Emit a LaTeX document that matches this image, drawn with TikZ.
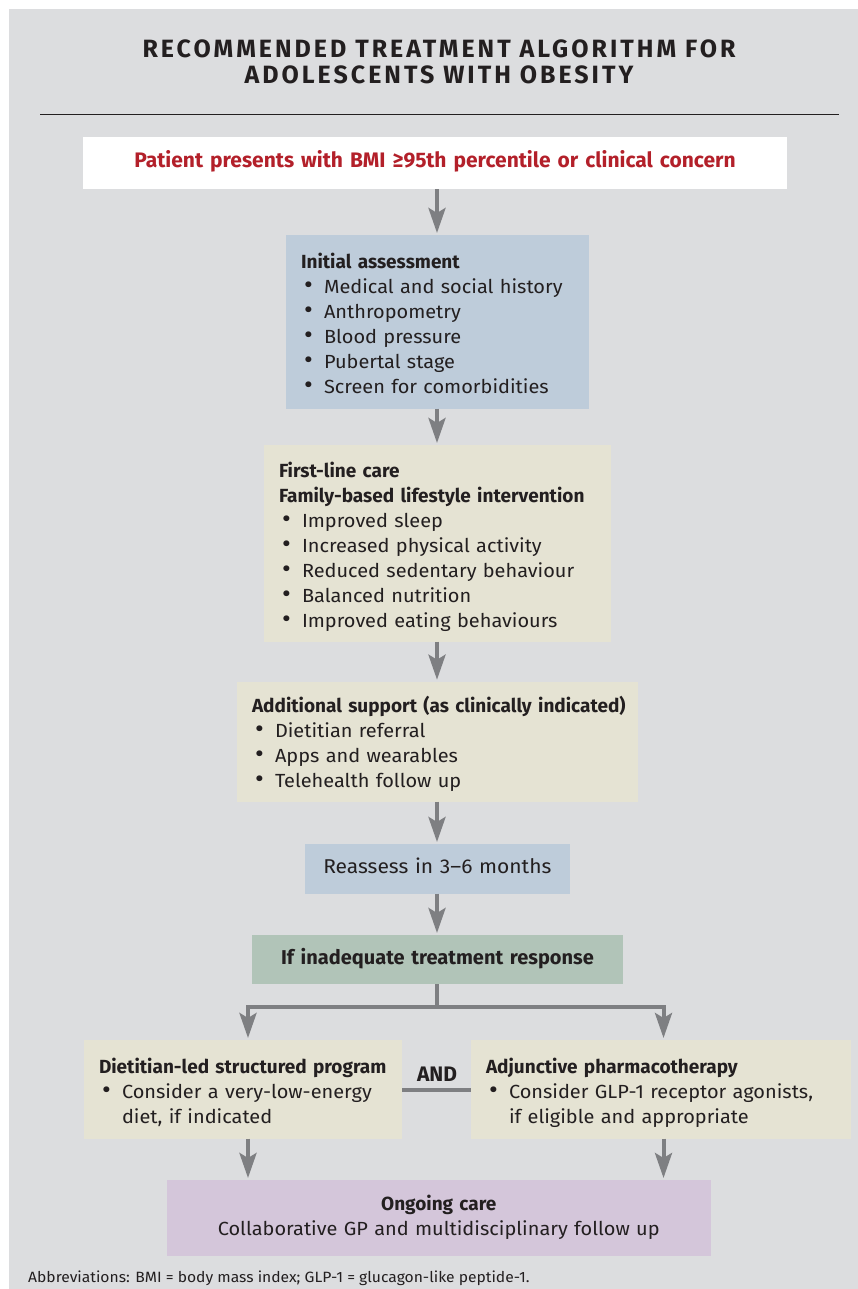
\documentclass[tikz,border=0pt]{standalone}
\usepackage{fontspec}
\setmainfont{Fira Sans}[FakeStretch=1.05]
\newfontfamily\bfont{Fira Sans}
\newfontfamily\titlefont{Fira Sans}[LetterSpace=12]
\usetikzlibrary{arrows.meta}
\definecolor{bg}{HTML}{DCDDDF}
\definecolor{ink}{HTML}{231F20}
\definecolor{redtxt}{HTML}{B3202A}
\definecolor{bluebox}{HTML}{BECCDA}
\definecolor{beigebox}{HTML}{E5E3D3}
\definecolor{greenbox}{HTML}{B1C4B8}
\definecolor{purplebox}{HTML}{D4C6DA}
\definecolor{arrowgray}{HTML}{7E7F82}
\newcommand\fsz[2]{\fontsize{#1}{#2}\selectfont}
\newcommand\hb[1]{{\bfont\bfseries #1}}
\newcommand\bitem[1]{\par\hangindent=23pt\hangafter=1\noindent\strut\makebox[23pt][l]{\hspace{3pt}\scalebox{1.35}{\textbullet}}\mbox{#1}\strut}
\newcommand\bcont[1]{\par\noindent\strut\hspace{23pt}\mbox{#1}\strut}
\newcommand\bhead[1]{\par\noindent\strut\mbox{\hb{#1}}\strut}
\tikzset{
  box/.style={anchor=north west, inner xsep=15pt, inner ysep=0pt, align=left, text=ink, font=\fsz{19}{25}, outer sep=0pt},
  cbox/.style={box, align=center},
  flowline/.style={draw=arrowgray, line width=4pt},
  arr/.style={flowline, -{Stealth[length=25pt,width=17pt,inset=5pt]}, shorten >=2pt}
}
\begin{document}
\begin{tikzpicture}[x=1pt,y=-1pt]
\useasboundingbox (0,0) rectangle (858,1289);
\fill[white] (0,0) rectangle (858,1289);
\fill[bg] (9,9) rectangle (858,1289);
% title
\node[anchor=base, text=ink, font=\titlefont\bfseries\fsz{25}{26}, inner sep=0pt] (t1) at (439,57.3) {RECOMMENDED TREATMENT ALGORITHM FOR};
\node[anchor=base, text=ink, font=\titlefont\bfseries\fsz{25}{26}, inner sep=0pt] (t2) at (439,83.3) {ADOLESCENTS WITH OBESITY};
\coordinate (r1) at (40,114.3);
\coordinate (r2) at (838.7,114.3);
\draw[ink, line width=1.3pt] (r1) -- (r2);
\coordinate (sp) at (437,0);
% boxes
\node[cbox, fill=white, minimum width=704pt, minimum height=52.6pt, text width=674pt, text=redtxt, font=\bfont\bfseries\fsz{21}{25}] (top) at (83,136.7) {\strut Patient presents with BMI ≥95th percentile or clinical concern\strut};
\node[box, fill=bluebox, minimum width=303pt, minimum height=173.7pt, text width=273pt] (init) at (286,235) {%
\bhead{Initial assessment}%
\bitem{Medical and social history}%
\bitem{Anthropometry}%
\bitem{Blood pressure}%
\bitem{Pubertal stage}%
\bitem{Screen for comorbidities}};
\node[box, fill=beigebox, minimum width=347pt, minimum height=196.7pt, text width=317pt] (first) at (264,445) {%
\bhead{First-line care}%
\bhead{Family-based lifestyle intervention}%
\bitem{Improved sleep}%
\bitem{Increased physical activity}%
\bitem{Reduced sedentary behaviour}%
\bitem{Balanced nutrition}%
\bitem{Improved eating behaviours}};
\node[box, fill=beigebox, minimum width=400.7pt, minimum height=120pt, text width=370.7pt] (add) at (237,681.7) {%
\bhead{Additional support (as clinically indicated)}%
\bitem{Dietitian referral}%
\bitem{Apps and wearables}%
\bitem{Telehealth follow up}};
\node[cbox, fill=bluebox, minimum width=264.7pt, minimum height=49.7pt, text width=234.7pt, font=\fsz{20}{25}] (re) at (305,844) {\strut Reassess in 3–6 months\strut};
\node[cbox, fill=greenbox, minimum width=371pt, minimum height=49pt, text width=341pt, font=\bfont\bfseries\fsz{20}{25}] (inad) at (252,935) {\strut If inadequate treatment response\strut};
\node[box, fill=beigebox, minimum width=318pt, minimum height=98.7pt, text width=288pt] (dl) at (84,1040) {%
\bhead{Dietitian-led structured program}%
\bitem{Consider a very-low-energy}%
\bcont{diet, if indicated}};
\node[box, fill=beigebox, minimum width=380pt, minimum height=98.7pt, text width=350pt] (ph) at (471,1040) {%
\bhead{Adjunctive pharmacotherapy}%
\bitem{Consider GLP-1 receptor agonists,}%
\bcont{if eligible and appropriate}};
\node[cbox, fill=purplebox, minimum width=543.5pt, minimum height=75.7pt, text width=513.5pt] (ong) at (167,1180) {%
\strut\hb{Ongoing care}\strut\\\strut Collaborative GP and multidisciplinary follow up\strut};
\node[text=ink, font=\bfont\bfseries\fsz{21}{25}, inner sep=0pt] (and) at (437,1074) {AND};
\node[anchor=base west, text=ink, font=\fsz{14.9}{16}, inner sep=0pt] (abbr) at (28,1282) {Abbreviations: BMI = body mass index; GLP-1 = glucagon-like peptide-1.};
% connectors
\draw[arr] (top.south -| sp) -- (init.north -| sp);
\draw[arr] (init.south -| sp) -- (first.north -| sp);
\draw[arr] (first.south -| sp) -- (add.north -| sp);
\draw[arr] (add.south -| sp) -- (re.north -| sp);
\draw[arr] (re.south -| sp) -- (inad.north -| sp);
\coordinate (jn) at (437,1007);
\coordinate (jl) at (248,1007);
\coordinate (jr) at (663.5,1007);
\draw[flowline] (inad.south -| sp) -- (jn);
\draw[flowline] ([xshift=-2pt]jl) -- ([xshift=2pt]jr);
\draw[arr] (jl) -- (dl.north -| jl);
\draw[arr] (jr) -- (ph.north -| jr);
\coordinate (andy) at (437,1090);
\draw[flowline] (dl.east |- andy) -- (ph.west |- andy);
\draw[arr] (dl.south -| jl) -- (ong.north -| jl);
\draw[arr] (ph.south -| jr) -- (ong.north -| jr);
\end{tikzpicture}
\end{document}
